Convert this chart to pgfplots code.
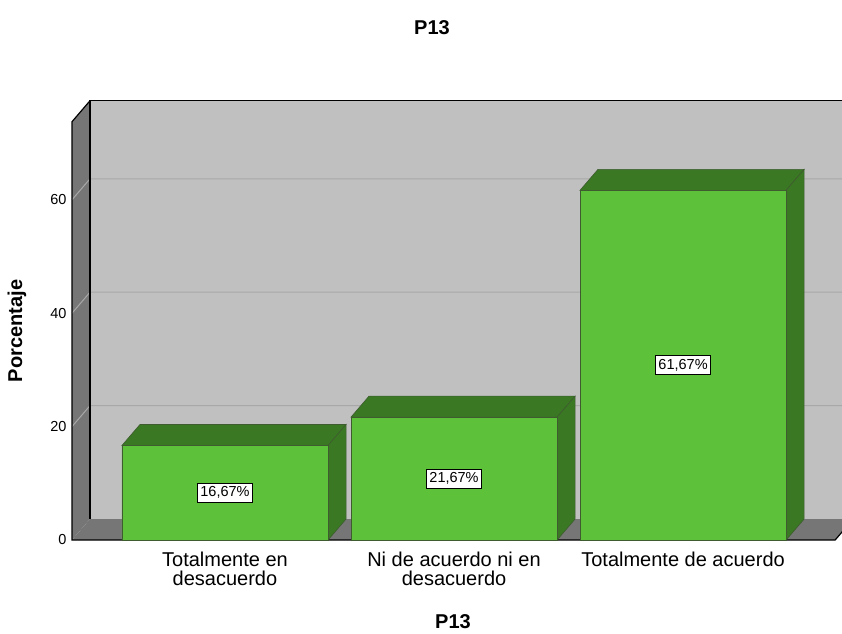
\documentclass[border=0pt]{standalone}
\usepackage{fontspec}
\setmainfont{Liberation Sans}
\usepackage{pgfplots}
\pgfplotsset{compat=1.18}

\definecolor{barfront}{RGB}{93,193,57}
\definecolor{barside}{RGB}{58,120,35}
\definecolor{baredge}{RGB}{62,92,48}
\definecolor{wallback}{RGB}{192,192,192}
\definecolor{walldark}{RGB}{118,118,118}
\definecolor{gridgray}{RGB}{168,168,168}

\begin{document}
\begin{tikzpicture}[x=1pt,y=1pt]
\path[use as bounding box] (0,0) rectangle (842,633);
\begin{axis}[
    at={(72pt,93pt)}, anchor=south west,
    scale only axis, width=770pt, height=440pt,
    xmin=-0.668, xmax=2.694, ymin=0, ymax=77.6,
    clip=false,
    axis line style={draw=none},
    xtick={0,1,2}, ytick={0,20,40,60},
    major tick length=0pt,
    xticklabels={{Totalmente en\\desacuerdo},{Ni de acuerdo ni en\\desacuerdo},{Totalmente de acuerdo}},
    xticklabel style={align=center, font=\fontsize{20}{19}\selectfont, yshift=-8pt},
    yticklabel style={font=\fontsize{14.5}{16}\selectfont, xshift=-2pt},
    /pgf/number format/assume math mode=true,
]
% walls
\addplot[fill=wallback, draw=none] coordinates {(-0.5894,3.7) (2.8,3.7) (2.8,77.47) (-0.5894,77.47)} -- cycle;
\addplot[fill=walldark, draw=none] coordinates {(-0.668,0) (-0.5894,3.7) (-0.5894,77.47) (-0.668,73.77)} -- cycle;
% grid lines (left wall and back wall)
\addplot[gridgray, line width=1pt] coordinates {(-0.668,20) (-0.5894,23.7) (2.8,23.7)};
\addplot[gridgray, line width=1pt] coordinates {(-0.668,40) (-0.5894,43.7) (2.8,43.7)};
\addplot[gridgray, line width=1pt] coordinates {(-0.668,60) (-0.5894,63.7) (2.8,63.7)};
% floor
\addplot[fill=walldark, draw=none] coordinates {(-0.668,0) (2.664,0) (2.7426,3.7) (-0.5894,3.7)} -- cycle;
% outlines
\addplot[black, line width=1.2pt] coordinates {(-0.5894,3.7) (-0.5894,77.47) (2.8,77.47)};
\addplot[black, line width=1.2pt] coordinates {(2.7426,3.7) (2.664,0) (-0.668,0) (-0.668,73.77) (-0.5894,77.47)};
% bar tops and sides
\addplot[fill=barside, draw=baredge, line width=0.6pt] coordinates {(-0.45,16.67) (0.45,16.67) (0.5286,20.37) (-0.3714,20.37)} -- cycle;
\addplot[fill=barside, draw=baredge, line width=0.6pt] coordinates {(0.45,0) (0.5286,3.7) (0.5286,20.37) (0.45,16.67)} -- cycle;
\addplot[fill=barside, draw=baredge, line width=0.6pt] coordinates {(0.55,21.67) (1.45,21.67) (1.5286,25.37) (0.6286,25.37)} -- cycle;
\addplot[fill=barside, draw=baredge, line width=0.6pt] coordinates {(1.45,0) (1.5286,3.7) (1.5286,25.37) (1.45,21.67)} -- cycle;
\addplot[fill=barside, draw=baredge, line width=0.6pt] coordinates {(1.55,61.67) (2.45,61.67) (2.5286,65.37) (1.6286,65.37)} -- cycle;
\addplot[fill=barside, draw=baredge, line width=0.6pt] coordinates {(2.45,0) (2.5286,3.7) (2.5286,65.37) (2.45,61.67)} -- cycle;
% bar fronts
\addplot[ybar, bar width=206pt, bar shift=0pt, fill=barfront, draw=baredge, line width=0.6pt]
    coordinates {(0,16.67) (1,21.67) (2,61.67)};
% value labels
\addplot[draw=none, mark=none, nodes near coords, point meta=explicit symbolic,
    every node near coord/.append style={anchor=center, fill=white, draw=black, line width=0.7pt,
        inner xsep=3pt, inner ysep=3.5pt, font=\fontsize{14.5}{16}\selectfont}]
    coordinates {(0,8.335)[16,67\%] (1,10.835)[21,67\%] (2,30.835)[61,67\%]};
\end{axis}
\node[font=\bfseries\fontsize{20}{24}\selectfont] at (432,605.5) {P13};
\node[font=\bfseries\fontsize{20}{24}\selectfont] at (453,11) {P13};
\node[rotate=90, font=\bfseries\fontsize{20}{24}\selectfont] at (17,302) {Porcentaje};
\end{tikzpicture}
\end{document}
